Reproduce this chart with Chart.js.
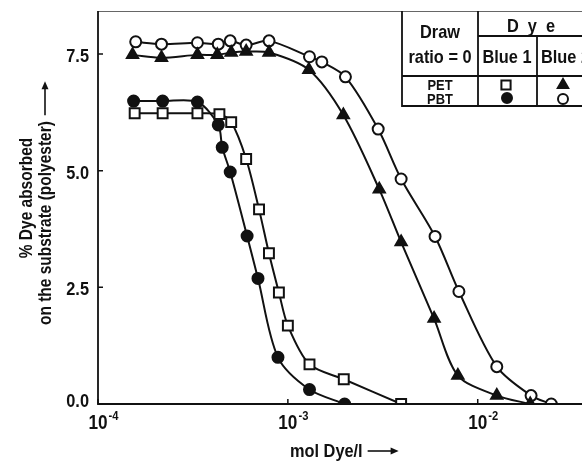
<!DOCTYPE html>
<html>
<head>
<meta charset="utf-8">
<script src="https://cdn.jsdelivr.net/npm/chart.js@4.4.1/dist/chart.umd.min.js"></script>
<style>
  html, body { margin: 0; padding: 0; background: #fff; overflow: hidden; }
  #wrap { width: 600px; height: 462px; position: relative; }
</style>
</head>
<body>
<div id="wrap"><canvas id="dyeChart"></canvas></div>
<script>
// mol Dye / l  vs  % dye absorbed
const blue1PetX = [1.56e-4, 2.19e-4, 3.34e-4, 4.36e-4, 5.03e-4, 6.03e-4, 7.05e-4, 7.95e-4, 8.97e-4, 1.0e-3, 1.30e-3, 1.97e-3, 3.95e-3];
const blue1PetY = [6.23, 6.23, 6.23, 6.21, 6.04, 5.25, 4.17, 3.23, 2.39, 1.68, 0.85, 0.53, 0.0];

const blue1PbtX = [1.54e-4, 2.19e-4, 3.34e-4, 4.30e-4, 4.51e-4, 4.97e-4, 6.10e-4, 6.96e-4, 8.87e-4, 1.30e-3, 1.99e-3];
const blue1PbtY = [6.49, 6.49, 6.47, 5.98, 5.50, 4.97, 3.60, 2.69, 1.0, 0.31, 0.0];

const blue2PetX = [1.52e-4, 2.16e-4, 3.34e-4, 4.25e-4, 5.03e-4, 6.03e-4, 7.96e-4, 1.29e-3, 1.96e-3, 3.03e-3, 3.95e-3, 5.89e-3, 7.86e-3, 1.26e-2, 1.89e-2];
const blue2PetY = [7.48, 7.42, 7.48, 7.48, 7.53, 7.55, 7.53, 7.16, 6.19, 4.60, 3.47, 1.83, 0.61, 0.18, 0.0];

const blue2PbtX = [1.58e-4, 2.16e-4, 3.34e-4, 4.30e-4, 4.97e-4, 6.03e-4, 7.96e-4, 1.30e-3, 1.51e-3, 2.01e-3, 2.99e-3, 3.95e-3, 5.96e-3, 7.96e-3, 1.26e-2, 1.91e-2, 2.44e-2];
const blue2PbtY = [7.76, 7.71, 7.74, 7.71, 7.78, 7.69, 7.78, 7.44, 7.33, 7.01, 5.89, 4.82, 3.59, 2.41, 0.80, 0.18, 0.0];

const yTicks = [0, 2.5, 5.0, 7.5];
const xTicks = [1e-4, 1e-3, 1e-2];
const xTickExp = ['-4', '-3', '-2'];

// the original uses a condensed grotesque; squeeze Liberation Sans to match
const FAM = "'Liberation Sans', Arial, sans-serif";
const SQUEEZE = 0.86;

function pts(xs, ys) {
  return xs.map((x, i) => ({ x: x, y: ys[i] }));
}

function series(label, xs, ys, style, filled, radius) {
  return {
    label: label,
    data: pts(xs, ys),
    borderColor: '#111',
    borderWidth: 2,
    pointStyle: style,
    pointRadius: radius,
    pointBorderWidth: 2,
    pointBorderColor: '#111',
    pointBackgroundColor: filled ? '#111' : '#fff',
    tension: 0.3,
    fill: false
  };
}

function text(ctx, str, x, y, size, align, angle) {
  ctx.save();
  ctx.translate(x, y);
  if (angle) ctx.rotate(angle);
  ctx.scale(SQUEEZE, 1);
  ctx.font = 'bold ' + size + 'px ' + FAM;
  ctx.textAlign = align || 'center';
  ctx.textBaseline = 'alphabetic';
  ctx.fillStyle = '#111';
  ctx.fillText(str, 0, 0);
  const w = ctx.measureText(str).width * SQUEEZE;
  ctx.restore();
  return w;
}

// arrow along the text direction, drawn in rotated space
function arrow(ctx, x, y, len, angle) {
  ctx.save();
  ctx.translate(x, y);
  if (angle) ctx.rotate(angle);
  ctx.strokeStyle = '#111';
  ctx.fillStyle = '#111';
  ctx.lineWidth = 1.6;
  ctx.beginPath();
  ctx.moveTo(0, 0);
  ctx.lineTo(len - 6, 0);
  ctx.stroke();
  ctx.beginPath();
  ctx.moveTo(len, 0);
  ctx.lineTo(len - 8, -3.5);
  ctx.lineTo(len - 8, 3.5);
  ctx.closePath();
  ctx.fill();
  ctx.restore();
}

// frame, inward tick marks, tick labels, axis titles and the key table
const decor = {
  id: 'decor',
  afterDatasetsDraw(chart) {
    const { ctx, chartArea: a, scales } = chart;
    const x = scales.x, y = scales.y;
    ctx.save();
    // top edge is faint in the original
    ctx.strokeStyle = '#666';
    ctx.lineWidth = 1;
    ctx.beginPath();
    ctx.moveTo(a.left, a.top + 0.5);
    ctx.lineTo(a.right + 20, a.top + 0.5);
    ctx.stroke();

    ctx.strokeStyle = '#111';
    ctx.lineWidth = 1.8;
    ctx.beginPath();
    ctx.moveTo(a.left, a.top);
    ctx.lineTo(a.left, a.bottom);
    ctx.lineTo(a.right + 20, a.bottom);
    ctx.stroke();

    ctx.lineWidth = 1.5;
    ctx.beginPath();
    yTicks.forEach(v => {
      const py = y.getPixelForValue(v);
      ctx.moveTo(a.left, py);
      ctx.lineTo(a.left + 5, py);
    });
    xTicks.forEach(v => {
      const px = x.getPixelForValue(v);
      ctx.moveTo(px, a.bottom);
      ctx.lineTo(px, a.bottom - 5);
    });
    ctx.stroke();

    // y tick labels
    yTicks.forEach(v => {
      const py = y.getPixelForValue(v);
      text(ctx, v.toFixed(1), a.left - 9, py + (v === 0 ? 3 : 8), 19, 'right');
    });

    // x tick labels, 10 with raised exponent
    xTicks.forEach((v, i) => {
      const px = x.getPixelForValue(v);
      const w = text(ctx, '10', px, a.bottom + 25, 20, 'center');
      text(ctx, xTickExp[i], px + w / 2 + 1, a.bottom + 16, 13, 'left');
    });

    // axis titles
    const tw = text(ctx, 'mol Dye/l', 290, 457, 19, 'left');
    arrow(ctx, 290 + tw + 5, 451, 31, 0);
    text(ctx, '% Dye absorbed', 32, 198, 18, 'center', -Math.PI / 2);
    const lw = text(ctx, 'on the substrate (polyester)', 51, 325, 18, 'left', -Math.PI / 2);
    arrow(ctx, 45, 325 - lw - 6, 34, -Math.PI / 2);

    // key table
    const L = 402, c1 = 478, c2 = 537, R = a.right + 20;
    const T = a.top, dyeLine = 36, head = 76, B = 106;
    ctx.fillStyle = '#fff';
    ctx.fillRect(L, T + 1, R - L, B - T - 1);
    ctx.strokeStyle = '#111';
    ctx.lineWidth = 1.8;
    ctx.beginPath();
    ctx.moveTo(L, T); ctx.lineTo(L, B); ctx.lineTo(R, B);
    ctx.moveTo(L, head); ctx.lineTo(R, head);
    ctx.moveTo(c1, dyeLine); ctx.lineTo(R, dyeLine);
    ctx.moveTo(c1, T); ctx.lineTo(c1, B);
    ctx.moveTo(c2, dyeLine); ctx.lineTo(c2, B);
    ctx.stroke();

    text(ctx, 'Draw', 440, 38, 19, 'center');
    text(ctx, 'ratio = 0', 440, 63, 19, 'center');
    text(ctx, 'D  y  e', 531, 32, 19, 'center');
    text(ctx, 'Blue 1', 507, 63, 19, 'center');
    text(ctx, 'Blue 2', 541, 63, 19, 'left');
    text(ctx, 'PET', 440, 90, 15, 'center');
    text(ctx, 'PBT', 440, 104, 15, 'center');

    const ds = chart.data.datasets;
    const keyPos = [[506, 85], [507, 98], [563, 85], [563, 99]];
    ds.forEach((d, i) => {
      ctx.fillStyle = d.pointBackgroundColor;
      ctx.strokeStyle = d.pointBorderColor;
      ctx.lineWidth = 2;
      Chart.helpers.drawPoint(ctx, { pointStyle: d.pointStyle, radius: d.pointRadius - 0.5, rotation: 0, borderWidth: 2 }, keyPos[i][0], keyPos[i][1]);
    });
    ctx.restore();
  }
};

new Chart(document.getElementById('dyeChart'), {
  type: 'line',
  data: {
    datasets: [
      series('Blue 1 PET', blue1PetX, blue1PetY, 'rect', false, 7),
      series('Blue 1 PBT', blue1PbtX, blue1PbtY, 'circle', true, 5.5),
      series('Blue 2 PET', blue2PetX, blue2PetY, 'triangle', true, 6.5),
      series('Blue 2 PBT', blue2PbtX, blue2PbtY, 'circle', false, 5.5)
    ]
  },
  options: {
    responsive: true,
    maintainAspectRatio: false,
    animation: false,
    layout: { padding: { left: 0, top: 11, right: 6, bottom: 0 } },
    plugins: { legend: { display: false }, tooltip: { enabled: false } },
    scales: {
      x: {
        type: 'logarithmic',
        min: 1e-4,
        max: 0.0395,
        grid: { display: false },
        border: { display: false },
        ticks: { display: false },
        afterFit: s => { s.height = 58; }
      },
      y: {
        min: 0,
        max: 8.42,
        grid: { display: false },
        border: { display: false },
        ticks: { display: false },
        afterFit: s => { s.width = 98; }
      }
    }
  },
  plugins: [decor]
});
</script>
</body>
</html>
